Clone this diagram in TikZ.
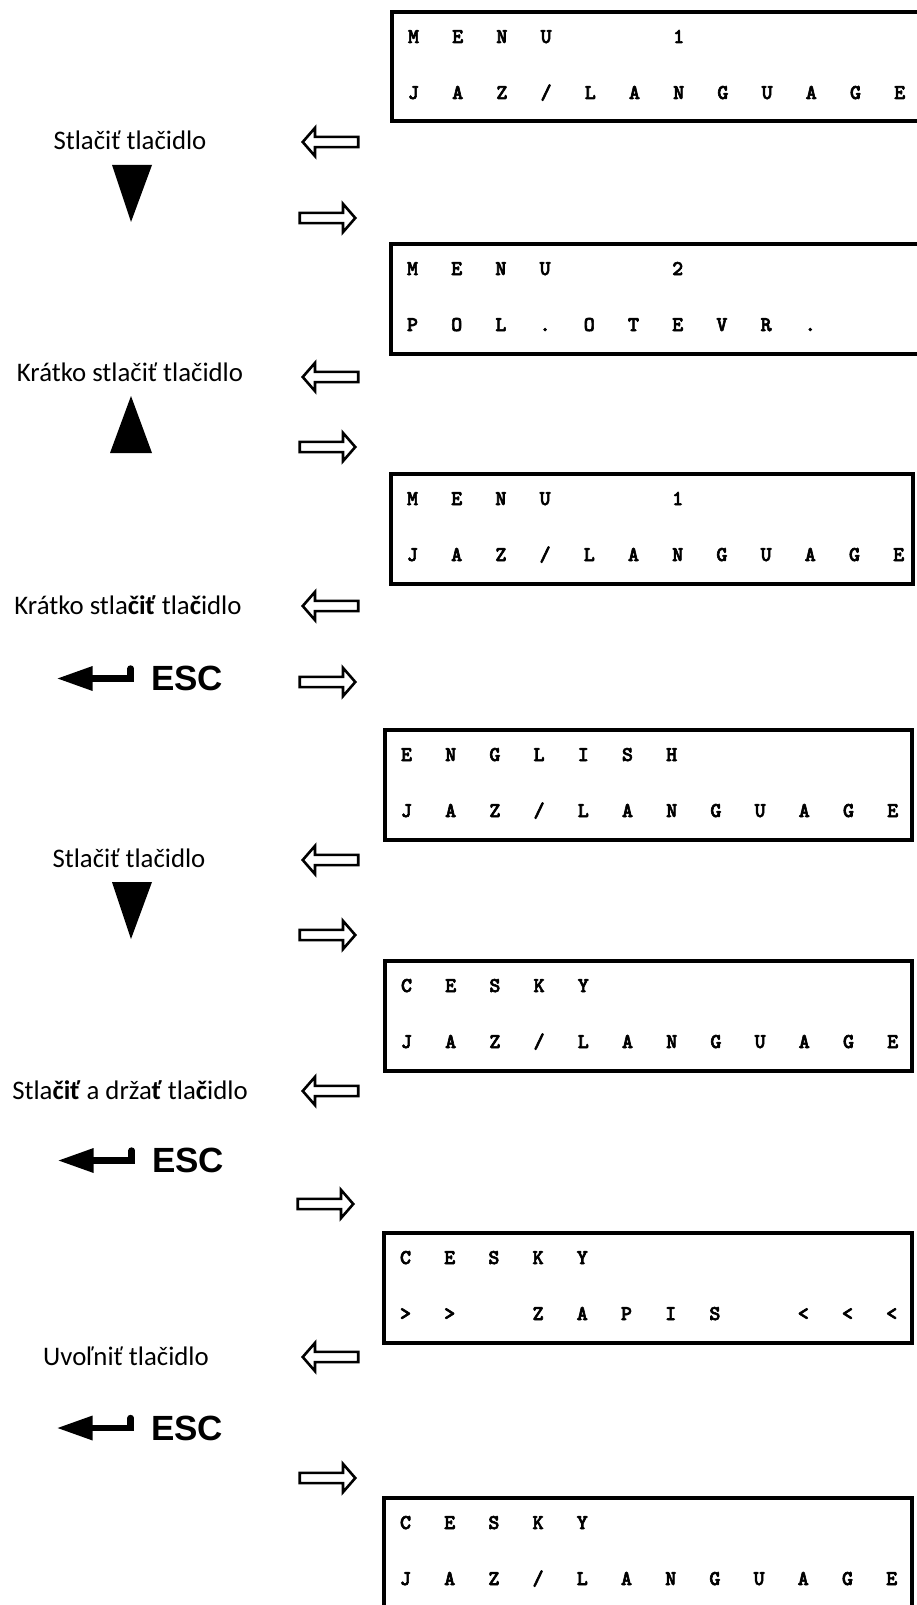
\documentclass[tikz,border=0pt]{standalone}
\usepackage{fontspec}
\setmainfont{Carlito}
\newfontfamily\keyfont{Liberation Sans}
\newfontfamily\lcdfont{lmmonolt10-bold.otf}[FakeBold=3]
\usetikzlibrary{shapes.arrows,arrows.meta}

\newlength\lcdpitch
\setlength\lcdpitch{22.1pt}
\makeatletter
\newcommand\lcdtext[1]{\@tfor\lcd@c:=#1\do{\makebox[\lcdpitch]{\if-\lcd@c\else\lcd@c\fi}}}
\makeatother

\tikzset{
    lcdscreen/.style={draw, line width=2pt, inner sep=0pt, outer sep=0pt,
        anchor=north west, minimum width=264pt, minimum height=54.75pt},
    lcdrow/.style={inner sep=0pt, anchor=base west,
        font=\lcdfont\fontsize{10.5pt}{12pt}\selectfont},
    hint/.style={inner sep=0pt, anchor=base, font=\fontsize{13.4pt}{15pt}\selectfont},
    hollowarrow/.style={single arrow, draw, line width=1.3pt, inner sep=0pt,
        inner ysep=1.9pt, minimum height=27.75pt, minimum width=12.75pt,
        single arrow head extend=4.5pt, single arrow tip angle=98,
        single arrow head indent=0pt, anchor=tip},
    backarrow/.style={hollowarrow, shape border rotate=180},
    nextarrow/.style={hollowarrow},
    esckey/.style={inner sep=0pt, font=\keyfont\bfseries\fontsize{17.5pt}{20pt}\selectfont},
    enterarrow/.style={line width=3.2pt, line cap=round,
        -{Triangle[length=18pt,width=11.5pt]}}
}

\begin{document}
\begin{tikzpicture}[x=0.5pt, y=-0.5pt]
    \useasboundingbox (0,0) rectangle (916,1605);

    \node[lcdscreen, minimum width=272pt] (scr1) at (392,12) {};
    \node[lcdrow] (scr1a) at ([shift={(-1,31)}]scr1.north west) {\lcdtext{MENU--1}};
    \node[lcdrow] (scr1b) at ([shift={(-1,87)}]scr1.north west) {\lcdtext{JAZ/LANGUAGE}};
    \node[hint] (hint1) at (130,150) {Stlačiť tlačidlo};
    \node[backarrow] (back1) at (301,142) {};
    \fill (112,165) -- (152,165) -- (131,222) -- cycle;
    \node[nextarrow] (next1) at (357,218) {};

    \node[lcdscreen, minimum width=272pt] (scr2) at (391,244) {};
    \node[lcdrow] (scr2a) at ([shift={(-1,31)}]scr2.north west) {\lcdtext{MENU--2}};
    \node[lcdrow] (scr2b) at ([shift={(-1,87)}]scr2.north west) {\lcdtext{POL.OTEVR.}};
    \node[hint] (hint2) at (130,381) {Krátko stlačiť tlačidlo};
    \node[backarrow] (back2) at (301,377) {};
    \fill (110,453) -- (152,453) -- (131,396) -- cycle;
    \node[nextarrow] (next2) at (357,447) {};

    \node[lcdscreen, minimum width=261pt] (scr3) at (391,474) {};
    \node[lcdrow] (scr3a) at ([shift={(-1,31)}]scr3.north west) {\lcdtext{MENU--1}};
    \node[lcdrow] (scr3b) at ([shift={(-1,87)}]scr3.north west) {\lcdtext{JAZ/LANGUAGE}};
    \node[hint] (hint3) at (128,614) {Krátko stla\textbf{čiť} tla\textbf{č}idlo};
    \node[backarrow] (back3) at (301,606) {};
    \node[esckey] (esc1) at (187,678.5) {ESC};
    \draw[enterarrow] ([shift={(-20,-10)}]esc1.west) -- ([shift={(-20,0)}]esc1.west) -- ([shift={(-94,0)}]esc1.west);
    \node[nextarrow] (next3) at (357,682) {};

    \node[lcdscreen, minimum width=263.5pt] (scr4) at (385,730) {};
    \node[lcdrow] (scr4a) at ([shift={(-1,31)}]scr4.north west) {\lcdtext{ENGLISH}};
    \node[lcdrow] (scr4b) at ([shift={(-1,87)}]scr4.north west) {\lcdtext{JAZ/LANGUAGE}};
    \node[hint] (hint4) at (129,867) {Stlačiť tlačidlo};
    \node[backarrow] (back4) at (301,860) {};
    \fill (112,882) -- (152,882) -- (131,939) -- cycle;
    \node[nextarrow] (next4) at (357,935) {};

    \node[lcdscreen, minimum width=263.5pt] (scr5) at (385,961) {};
    \node[lcdrow] (scr5a) at ([shift={(-1,31)}]scr5.north west) {\lcdtext{CESKY}};
    \node[lcdrow] (scr5b) at ([shift={(-1,87)}]scr5.north west) {\lcdtext{JAZ/LANGUAGE}};
    \node[hint] (hint5) at (130,1099) {Stla\textbf{čiť} a drža\textbf{ť} tla\textbf{č}idlo};
    \node[backarrow] (back5) at (301,1091) {};
    \node[esckey] (esc2) at (188,1160.5) {ESC};
    \draw[enterarrow] ([shift={(-20,-10)}]esc2.west) -- ([shift={(-20,0)}]esc2.west) -- ([shift={(-94,0)}]esc2.west);
    \node[nextarrow] (next5) at (355,1204) {};

    \node[lcdscreen] (scr6) at (384,1233) {};
    \node[lcdrow] (scr6a) at ([shift={(-1,31)}]scr6.north west) {\lcdtext{CESKY}};
    \node[lcdrow] (scr6b) at ([shift={(-1,87)}]scr6.north west) {\lcdtext{>>-ZAPIS-<<<}};
    \node[hint] (hint6) at (126,1365) {Uvoľniť tlačidlo};
    \node[backarrow] (back6) at (301,1357) {};
    \node[esckey] (esc3) at (187,1428) {ESC};
    \draw[enterarrow] ([shift={(-20,-10)}]esc3.west) -- ([shift={(-20,0)}]esc3.west) -- ([shift={(-94,0)}]esc3.west);
    \node[nextarrow] (next6) at (357,1478) {};

    \node[lcdscreen, minimum height=60pt] (scr7) at (384,1498) {};
    \node[lcdrow] (scr7a) at ([shift={(-1,31)}]scr7.north west) {\lcdtext{CESKY}};
    \node[lcdrow] (scr7b) at ([shift={(-1,87)}]scr7.north west) {\lcdtext{JAZ/LANGUAGE}};
\end{tikzpicture}
\end{document}
